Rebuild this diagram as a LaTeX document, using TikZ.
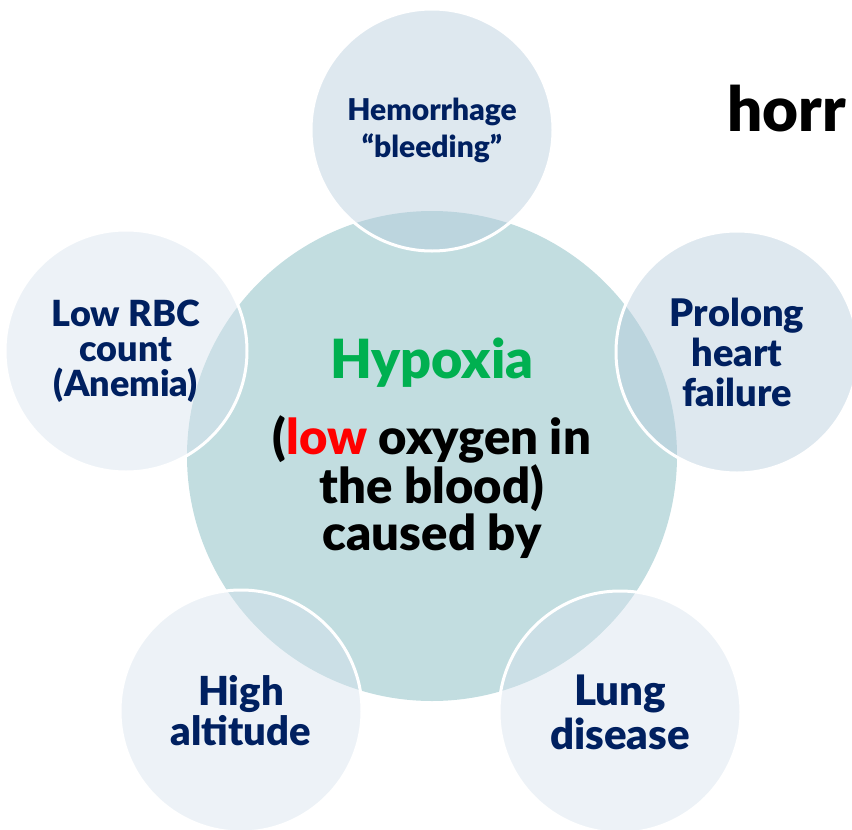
\documentclass[tikz,border=0pt]{standalone}
\usepackage{fontspec}
\IfFontExistsTF{Lato Black}
  {\setsansfont{Lato}[BoldFont={Lato Black}]}
  {\setsansfont{Lato}}
\usetikzlibrary{positioning}
\definecolor{navytxt}{HTML}{002060}
\definecolor{hypgreen}{HTML}{00B050}
\definecolor{lowred}{HTML}{FF0000}
\definecolor{hubfill}{HTML}{C2DDE0}
\definecolor{causeblue}{HTML}{B6CCDC}
\definecolor{causepale}{HTML}{D7E3EE}
\tikzset{
  % cerchio centrale
  hub/.style={circle, fill=hubfill, minimum size=490pt, inner sep=0pt},
  % cerchi delle cause
  cause/.style={circle, draw=white, line width=3pt, fill opacity=0.45, text opacity=1,
    minimum size=242pt, inner sep=0pt, align=center, text=navytxt},
  cause dark/.style={cause, fill=causeblue},
  cause pale/.style={cause, fill=causepale},
  % testi
  bigtxt/.style={font=\sffamily\bfseries\fontsize{49}{47}\selectfont, align=center},
}

\begin{document}
\begin{tikzpicture}[x=1pt, y=-1pt]
  \useasboundingbox (0,0) rectangle (852,830);
  \node[hub] (hub) at (432,456) {};
  % cause intorno
  \node[cause dark, font=\sffamily\bfseries\fontsize{30}{37}\selectfont] (bleed) at (432,130)
    {Hemorrhage\\“bleeding”};
  \node[cause pale, font=\sffamily\bfseries\fontsize{36}{35}\selectfont] (anemia) at (126,351)
    {Low RBC\\count\\(Anemia)};
  \node[cause dark, font=\sffamily\bfseries\fontsize{38}{40}\selectfont] (heart) at (737,352)
    {Prolong\\heart\\failure};
  \node[cause pale, font=\sffamily\bfseries\fontsize{40}{40}\selectfont] (alt) at (241,711)
    {High\\altitude};
  \node[cause pale, font=\sffamily\bfseries\fontsize{42}{44}\selectfont] (lung) at (620,712)
    {Lung\\disease};
  % testo centrale
  \node[font=\sffamily\bfseries\fontsize{54}{54}\selectfont, text=hypgreen, anchor=base]
    (title) at (432,378) {Hypoxia};
  \node[bigtxt, anchor=base] (body) at (432,550)
    {(\textcolor{lowred}{low} oxygen in\\the blood)\\caused by};
  \node[font=\sffamily\bfseries\fontsize{62}{62}\selectfont, anchor=base west]
    (horr) at (724,131) {horr};
\end{tikzpicture}
\end{document}
